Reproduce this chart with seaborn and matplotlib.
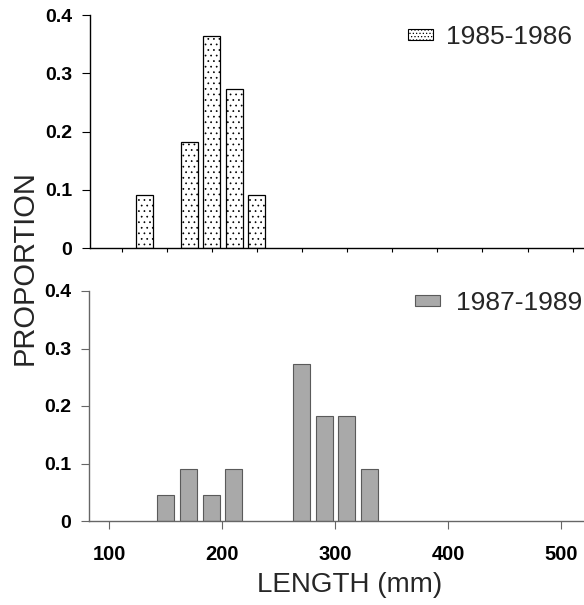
import matplotlib
matplotlib.use("Agg")
import matplotlib.pyplot as plt
import seaborn as sns
import numpy as np
from matplotlib.patches import Patch

# Data
lengths_8586 = [130, 170, 190, 210, 230]
props_8586 = [0.0909, 0.1818, 0.3636, 0.2727, 0.0909]
lengths_8789 = [150, 170, 190, 210, 270, 290, 310, 330]
props_8789 = [0.0455, 0.0909, 0.0455, 0.0909, 0.2727, 0.1818, 0.1818, 0.0909]
labels = ["1985-1986", "1987-1989"]
yticks = [0, 0.1, 0.2, 0.3, 0.4]
ytick_labels = ["0", "0.1", "0.2", "0.3", "0.4"]
xticks = [100, 200, 300, 400, 500]

sns.set_theme(style="white")
plt.rcParams['font.family'] = ['Liberation Sans', 'DejaVu Sans']
plt.rcParams['hatch.color'] = '#8a8a8a'
plt.rcParams['hatch.linewidth'] = 0.5

W, H = 584, 605
fig = plt.figure(figsize=(W / 100, H / 100), dpi=100)

def px_axes(x0, y_top, x1, y_bot):
    return fig.add_axes([x0 / W, 1 - y_bot / H, (x1 - x0) / W, (y_bot - y_top) / H])

ax1 = px_axes(90, 15, 584, 248)
ax2 = px_axes(89, 291, 584, 521)

xlim = (82, 520)

sns.barplot(x=lengths_8586, y=props_8586, native_scale=True, width=0.75,
            color="white", edgecolor="black", linewidth=0.9, ax=ax1)
for p in ax1.patches:
    p.set_hatch('...')
    p.set_facecolor('white')

sns.barplot(x=lengths_8789, y=props_8789, native_scale=True, width=0.75,
            color="#a9a9a9", edgecolor="#5a5a5a", linewidth=0.8, ax=ax2, saturation=1)

for ax, spcol in [(ax1, 'black'), (ax2, '#666666')]:
    ax.set_xlim(*xlim)
    ax.set_ylim(0, 0.4)
    ax.set_yticks(yticks)
    ax.set_yticklabels(ytick_labels, fontsize=14, fontweight='bold')
    for s in ['top', 'right']:
        ax.spines[s].set_visible(False)
    for s in ['left', 'bottom']:
        ax.spines[s].set_color(spcol)
        ax.spines[s].set_linewidth(1.0)
    ax.tick_params(axis='both', direction='out', length=6, width=0.8,
                   colors=spcol, labelcolor='black', left=True, bottom=True, pad=7)
    ax.set_xlabel("")
    ax.set_ylabel("")

ax1.set_xticks(list(range(110, 520, 40)))
ax1.set_xticklabels([])
ax1.tick_params(axis='x', length=3)

ax2.set_xticks(xticks)
ax2.set_xticklabels([str(v) for v in xticks], fontsize=14.5, fontweight='bold')
ax2.tick_params(axis='x', pad=11)

fig.text(350 / W, 1 - 585 / H, "LENGTH (mm)", fontsize=20, ha='center', va='center')
fig.text(25 / W, 1 - 268 / H, "PROPORTION", rotation=90, fontsize=21,
         ha='center', va='center')

h1 = Patch(facecolor='white', edgecolor='black', hatch='.....', linewidth=0.8)
h2 = Patch(facecolor='#a9a9a9', edgecolor='#5a5a5a', linewidth=0.8)
ax1.legend(handles=[h1], labels=[labels[0]], frameon=False, loc='center right',
           bbox_to_anchor=(572 / W, 1 - 37 / H), bbox_transform=fig.transFigure,
           fontsize=19, handlelength=0.95, handleheight=0.28, handletextpad=0.5,
           borderaxespad=0, borderpad=0)
ax2.legend(handles=[h2], labels=[labels[1]], frameon=False, loc='center right',
           bbox_to_anchor=(582 / W, 1 - 303 / H), bbox_transform=fig.transFigure,
           fontsize=19, handlelength=0.95, handleheight=0.28, handletextpad=0.6,
           borderaxespad=0, borderpad=0)

fig.savefig("out.png", dpi=100)
